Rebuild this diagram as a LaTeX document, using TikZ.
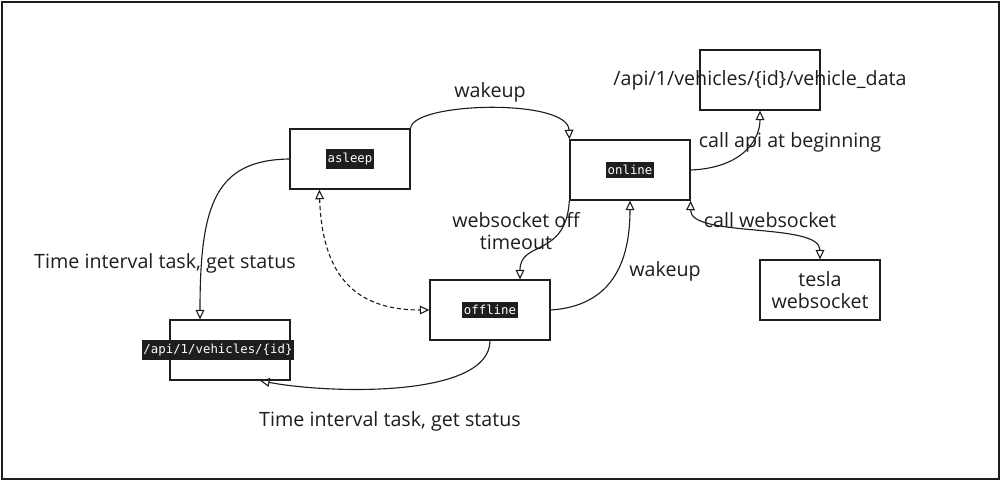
\documentclass[tikz,border=0pt]{standalone}
\usepackage{fontspec}
\setmainfont{Open Sans}
\setmonofont{DejaVu Sans Mono}
\usetikzlibrary{calc,arrows.meta}
\definecolor{ink}{HTML}{1E1E1E}
\definecolor{codebg}{HTML}{1E1E1E}

\begin{document}
\begin{tikzpicture}[x=0.025cm,y=-0.025cm,
		box/.style={draw=ink,line width=0.9pt,minimum width=3cm,minimum height=1.5cm,inner sep=0pt},
		code/.style={fill=codebg,text=white,font=\ttfamily\fontsize{8.8}{10}\selectfont,inner xsep=1.4pt,inner ysep=2.6pt},
		note/.style={text=ink,font=\fontsize{14}{15.5}\selectfont,inner sep=1pt,align=center},
		arr/.style={draw=ink,line width=0.8pt,-{Triangle[open,length=2.4mm,width=2.2mm]}},
		arrs/.style={arr,{Triangle[open,length=2.4mm,width=2.2mm]}-{Triangle[open,length=2.4mm,width=2.2mm]}}]
		\useasboundingbox (0,0) rectangle (1002,482);
		\draw[ink,line width=1.2pt] (2,2) rectangle (999,479);

		\node[box] (asleep) at (350,159) {};
		\node[code] (asleeplbl) at (asleep) {asleep};
		\node[box] (online) at (630,170) {};
		\node[code] (onlinelbl) at (online) {online};
		\node[box] (offline) at (490,310) {};
		\node[code] (offlinelbl) at (offline) {offline};
		\node[box] (vehicles) at (230,350) {};
		\node[code] (vehicleslbl) at (218,350) {/api/1/vehicles/\{id\}};
		\node[box] (vehicledata) at (760,80) {};
		\node[note] (vehicledatalbl) at (760,80) {/api/1/vehicles/\{id\}/vehicle\_data};
		\node[box] (teslaws) at (820,290) {};
		\node[note] (teslawslbl) at (teslaws) {tesla\\websocket};

		\draw[arr] (asleep.north east) .. controls (412,102) and (568,98) .. (online.north west);
		\node[note] (wakeupa) at (490,92) {wakeup};
		\draw[arr] (online.south west) .. controls (566,258) and (520,240) .. ($(offline.north)+(30,0)$);
		\node[note] (timeout) at (516,231) {websocket off\\timeout};
		\draw[arr] (offline.east) .. controls (612,306) and (630,262) .. (online.south);
		\node[note] (wakeupb) at (665,271) {wakeup};
		\draw[arrs,densely dashed] ($(asleep.south west)+(30,0)$) .. controls (322,272) and (352,310) .. (offline.west);
		\draw[arr] (asleep.west) .. controls (215,160) and (200,205) .. ($(vehicles.north)+(-30,0)$);
		\node[note] (taska) at (165,263) {Time interval task, get status};
		\draw[arr] (offline.south) .. controls (490,398) and (330,394) .. ($(vehicles.south)+(30,0)$);
		\node[note] (taskb) at (390,421) {Time interval task, get status};
		\draw[arr] (online.east) .. controls (742,168) and (760,140) .. (vehicledata.south);
		\node[note] (callapi) at (790,142) {call api at beginning};
		\draw[arrs] (online.south east) .. controls (690,238) and (820,222) .. (teslaws.north);
		\node[note] (callws) at (770,220) {call websocket};
	\end{tikzpicture}
\end{document}
